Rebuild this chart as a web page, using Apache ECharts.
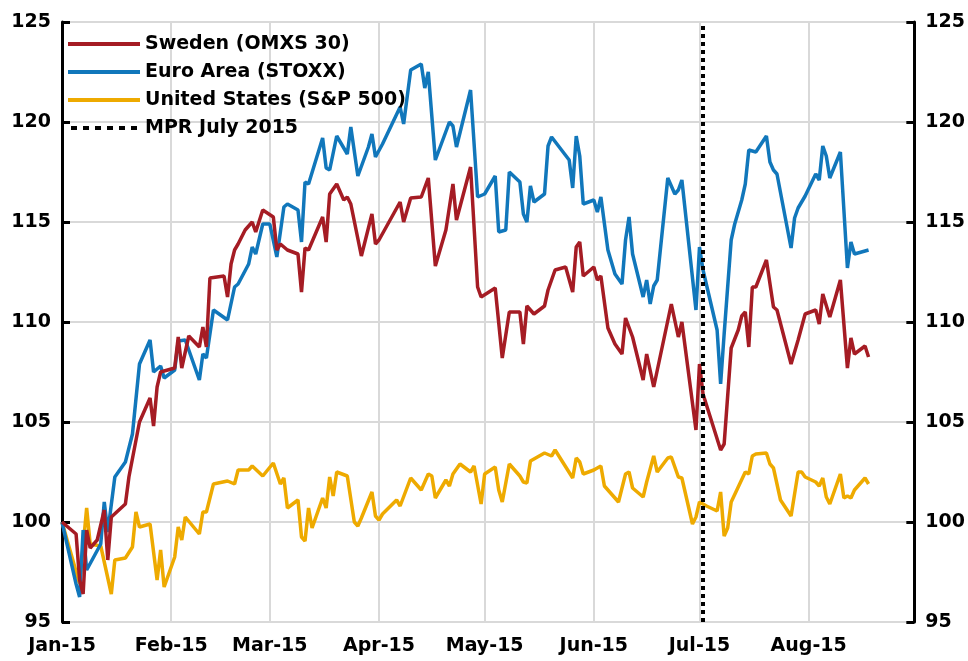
<!DOCTYPE html>
<html>
<head>
<meta charset="utf-8">
<script src="https://cdn.jsdelivr.net/npm/echarts@6/dist/echarts.min.js"></script>
<style>
	html, body { margin: 0; padding: 0; background: #fff; }
	#main { width: 968px; height: 661px; }
</style>
</head>
<body>
<div id="main"></div>
<script type="text/javascript">
// tick labels on the time axis (one per month start)
var monthLabels = ['Jan-15', 'Feb-15', 'Mar-15', 'Apr-15', 'May-15', 'Jun-15', 'Jul-15', 'Aug-15'];
var mprDate = '2015-07-02';

// Sweden (OMXS 30)
var sweDates = ['01-01','01-05','01-06','01-07','01-08','01-09','01-11','01-13','01-14','01-15','01-19','01-20','01-23','01-26','01-27','01-28','01-29',
	'02-02','02-03','02-04','02-06','02-09','02-10','02-11','02-12','02-16','02-17','02-18','02-19','02-20','02-22','02-24','02-25','02-27',
	'03-02','03-03','03-04','03-06','03-09','03-10','03-11','03-12','03-16','03-17','03-18','03-20','03-22','03-23','03-24','03-27','03-30','03-31',
	'04-01','04-07','04-08','04-10','04-13','04-15','04-17','04-20','04-22','04-23','04-27','04-29','04-30',
	'05-04','05-06','05-08','05-11','05-12','05-13','05-15','05-18','05-19','05-21','05-24','05-26','05-27','05-28','05-29',
	'06-01','06-02','06-03','06-05','06-07','06-09','06-10','06-12','06-15','06-16','06-18','06-23','06-25','06-26','06-30',
	'07-01','07-02','07-07','07-08','07-10','07-12','07-13','07-14','07-15','07-16','07-17','07-20','07-22','07-23','07-27','07-29','07-31',
	'08-03','08-04','08-05','08-07','08-10','08-12','08-13','08-14','08-17','08-18'];
var sweValues = [100,99.4,97.1,96.4,99.6,98.7,99.1,100.6,98.1,100.25,100.9,102.25,105.0,106.2,104.8,106.75,107.5,
	107.7,109.25,107.7,109.3,108.75,109.75,108.75,112.2,112.3,111.25,112.9,113.6,113.9,114.6,115.0,114.5,115.6,
	115.25,113.6,113.9,113.6,113.4,111.5,113.7,113.6,115.25,114.0,116.4,116.9,116.1,116.25,115.9,113.3,115.4,113.9,
	114.1,116.0,115.0,116.2,116.25,117.2,112.8,114.6,116.9,115.1,117.75,111.75,111.25,
	111.7,108.2,110.5,110.5,108.9,110.8,110.4,110.8,111.6,112.6,112.75,111.5,113.75,114.0,112.3,
	112.75,112.1,112.3,109.7,108.9,108.4,110.2,109.25,107.1,108.4,106.75,110.9,109.25,110.0,104.6,
	107.9,106.4,103.6,103.9,108.7,109.6,110.3,110.5,108.75,111.75,111.75,113.1,110.75,110.6,107.9,109.1,110.4,
	110.6,109.9,111.4,110.25,112.1,107.7,109.2,108.4,108.8,108.25];

// Euro Area (STOXX)
var euroDates = ['01-01','01-05','01-06','01-07','01-08','01-12','01-13','01-14','01-16','01-19','01-21','01-23','01-26','01-27','01-29','01-30',
	'02-02','02-03','02-05','02-09','02-10','02-11','02-13','02-17','02-19','02-20','02-23','02-24','02-25','02-27',
	'03-01','03-03','03-05','03-06','03-09','03-10','03-11','03-12','03-16','03-17','03-18','03-20','03-23','03-24','03-26','03-29','03-30','03-31',
	'04-02','04-07','04-08','04-10','04-13','04-14','04-15','04-17','04-21','04-22','04-23','04-27','04-29',
	'05-01','05-04','05-05','05-07','05-08','05-11','05-12','05-13','05-14','05-15','05-18','05-19','05-20','05-25','05-26','05-27','05-28','05-29',
	'06-01','06-02','06-03','06-05','06-07','06-09','06-10','06-11','06-12','06-15','06-16','06-17','06-18','06-19','06-22','06-24','06-25','06-26','06-30',
	'07-01','07-02','07-06','07-07','07-08','07-10','07-11','07-13','07-14','07-15','07-17','07-20','07-21','07-22','07-23','07-27','07-28','07-29','07-31',
	'08-03','08-04','08-05','08-06','08-07','08-10','08-12','08-13','08-14','08-18'];
var euroValues = [100,96.9,96.25,99.6,97.6,98.9,101.0,99.5,102.25,103.0,104.4,107.9,109.1,107.5,107.8,107.2,
	107.6,109.05,109.1,107.1,108.4,108.2,110.6,110.1,111.75,111.9,112.9,113.75,113.4,114.9,
	114.9,113.25,115.75,115.9,115.6,114.0,117.0,116.9,119.2,117.7,117.6,119.3,118.4,119.75,117.3,118.75,119.4,118.25,
	118.9,120.75,119.9,122.6,122.9,121.7,122.5,118.1,120.0,119.8,118.75,121.6,116.25,
	116.4,117.3,114.5,114.6,117.5,117.0,115.4,115.0,116.8,116.0,116.4,118.8,119.25,118.1,116.7,119.3,118.3,115.9,
	116.1,115.5,116.25,113.6,112.4,111.9,114.1,115.25,113.4,111.25,112.1,110.9,111.8,112.1,117.2,116.4,116.6,117.1,110.6,
	113.75,112.6,109.6,106.9,109.4,114.1,114.9,116.1,116.9,118.6,118.5,119.3,118.0,117.6,117.4,113.7,115.2,115.7,116.3,
	117.4,117.1,118.8,118.3,117.2,118.5,112.7,114.0,113.4,113.6];

// United States (S&P 500)
var usDates = ['01-01','01-06','01-08','01-09','01-12','01-15','01-16','01-19','01-21','01-22','01-23','01-26','01-28','01-29','01-30',
	'02-02','02-03','02-04','02-05','02-09','02-10','02-11','02-13','02-17','02-19','02-20','02-23','02-24','02-27',
	'03-02','03-04','03-05','03-06','03-09','03-10','03-11','03-12','03-13','03-16','03-17','03-18','03-19','03-20','03-23','03-25','03-26','03-27','03-30','03-31',
	'04-01','04-02','04-06','04-07','04-10','04-13','04-15','04-16','04-17','04-20','04-21','04-22','04-24','04-27','04-28','04-30',
	'05-01','05-04','05-05','05-06','05-08','05-11','05-12','05-13','05-14','05-18','05-20','05-21','05-26','05-27','05-28','05-29',
	'06-01','06-03','06-04','06-08','06-10','06-11','06-12','06-15','06-16','06-18','06-19','06-22','06-23','06-25','06-26','06-29','06-30',
	'07-01','07-03','07-06','07-07','07-08','07-09','07-10','07-14','07-15','07-16','07-17','07-20','07-21','07-22','07-24','07-27','07-29','07-30','07-31',
	'08-03','08-04','08-05','08-06','08-07','08-10','08-11','08-12','08-13','08-14','08-17','08-18'];
var usValues = [100,96.9,100.7,98.9,98.8,96.4,98.1,98.2,98.75,100.5,99.75,99.9,97.1,98.6,96.75,
	98.25,99.75,99.1,100.25,99.4,100.5,100.5,101.9,102.05,101.9,102.6,102.6,102.8,102.3,
	102.95,101.9,102.2,100.7,101.1,99.25,99.05,100.7,99.7,101.2,100.7,102.25,101.3,102.5,102.3,100.0,99.8,100.2,101.5,100.3,
	100.1,100.4,101.1,100.8,102.2,101.6,102.4,102.3,101.2,102.1,101.8,102.4,102.9,102.5,102.8,100.9,
	102.4,102.75,101.6,101.0,102.9,102.3,102.0,101.95,103.05,103.45,103.3,103.6,102.2,103.2,103.0,102.4,
	102.6,102.8,101.8,101.0,102.4,102.5,101.7,101.25,102.0,103.3,102.5,103.2,103.25,102.25,102.2,99.9,100.25,
	101.0,100.8,100.55,101.5,99.3,99.7,101.0,102.5,102.4,103.3,103.4,103.45,102.9,102.7,101.1,100.3,102.5,102.5,102.25,
	102.0,101.8,102.2,101.25,100.9,102.4,101.2,101.3,101.2,101.6,102.2,101.9];

var FONT = 'DejaVu Sans';
var myChart;

function pairs(dates, values) {
	var out = [];
	for (var i = 0; i < dates.length; i++) {
		out.push(['2015-' + dates[i], values[i]]);
	}
	return out;
}

function lineSeries(name, color, dates, values) {
	return {
		name: name,
		type: 'line',
		yAxisIndex: 0,
		symbol: 'none',
		lineStyle: { color: color, width: 3.5 },
		itemStyle: { color: color },
		data: pairs(dates, values)
	};
}

myChart = echarts.init(document.getElementById('main'));
var yAxisBase = {
	type: 'value',
	min: 95,
	max: 125,
	interval: 5,
	axisLine: { show: true, lineStyle: { color: '#000', width: 3 } },
	axisTick: { show: true, inside: true, length: 8, lineStyle: { color: '#000', width: 3 } },
	axisLabel: { color: '#000', fontSize: 19, fontWeight: 'bold', fontFamily: FONT, margin: 11 }
};
// dashed legend mark for the MPR line
var dashIcon = 'path://M0,0h6v4h-6z M12,0h6v4h-6z M24,0h6v4h-6z M36,0h6v4h-6z M48,0h6v4h-6z M60,0h6v4h-6z';
var option = {
	backgroundColor: '#fff',
	animation: false,
	grid: { left: 62, right: 51, top: 22, bottom: 39, containLabel: false },
	legend: {
		orient: 'vertical',
		left: 68,
		top: 33,
		padding: 0,
		itemWidth: 72,
		itemHeight: 4,
		itemGap: 6,
		icon: 'rect',
		data: [
			{ name: 'Sweden (OMXS 30)' },
			{ name: 'Euro Area (STOXX)' },
			{ name: 'United States (S&P 500)' },
			{ name: 'MPR July 2015', icon: dashIcon }
		],
		textStyle: { color: '#000', fontSize: 19, fontWeight: 'bold', fontFamily: FONT, lineHeight: 22 },
		selectedMode: false
	},
	xAxis: {
		type: 'time',
		min: '2015-01-01',
		max: '2015-08-31',
		minInterval: 28 * 86400000,
		maxInterval: 31 * 86400000,
		axisLine: { show: false },
		axisTick: { show: false },
		splitLine: { show: true, lineStyle: { color: '#d9d9d9', width: 2 } },
		axisLabel: {
			color: '#000', fontSize: 19, fontWeight: 'bold', fontFamily: FONT, margin: 15,
			hideOverlap: false,
			formatter: function (val) {
				var d = new Date(val);
				return d.getDate() === 1 ? monthLabels[d.getMonth()] : '';
			}
		}
	},
	yAxis: [
		Object.assign({}, yAxisBase, {
			position: 'left',
			splitLine: { show: true, lineStyle: { color: '#d9d9d9', width: 2 } }
		}),
		Object.assign({}, yAxisBase, {
			position: 'right',
			splitLine: { show: false }
		})
	],
	series: [
		lineSeries('United States (S&P 500)', '#EEAA00', usDates, usValues),
		lineSeries('Euro Area (STOXX)', '#1177BB', euroDates, euroValues),
		lineSeries('Sweden (OMXS 30)', '#A51C24', sweDates, sweValues),
		{
			name: 'MPR July 2015',
			type: 'line',
			symbol: 'none',
			data: [],
			lineStyle: { color: '#000', width: 4, type: [5, 5] },
			itemStyle: { color: '#000' },
			markLine: {
				silent: true,
				symbol: 'none',
				label: { show: false },
				lineStyle: { color: '#000', width: 4, type: [4, 4] },
				data: [{ xAxis: mprDate }]
			}
		}
	]
};
myChart.setOption(option);
</script>
</body>
</html>
